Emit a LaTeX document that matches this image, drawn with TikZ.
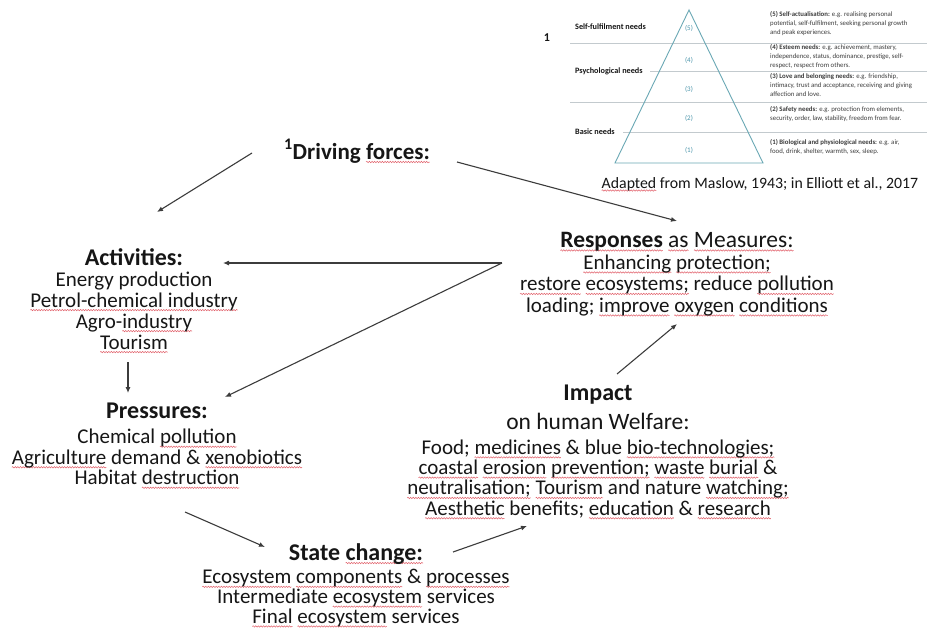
\documentclass[tikz,border=0pt]{standalone}
\usepackage{fontspec}
\setmainfont{Carlito}
\usetikzlibrary{arrows.meta,calc,decorations.pathmorphing}

\definecolor{ink}{HTML}{161616}
\definecolor{arrowgray}{HTML}{3C3C3C}
\definecolor{pyr}{HTML}{6AA8B5}
\definecolor{pyrnum}{HTML}{4B95AB}
\definecolor{rulegray}{HTML}{C3CACE}
\definecolor{squigred}{HTML}{E2626C}
\definecolor{smallink}{HTML}{3C3C3C}

\tikzset{
  squig/.style={draw=squigred, line width=0.5pt, decorate,
    decoration={snake, amplitude=0.7pt, segment length=2.6pt}},
}

% red spell-check style wavy underline
\newsavebox\sqbox
\newlength\sqlen
\newlength\sqdrop
\setlength\sqdrop{3pt}
\newcommand\sq[1]{\sbox\sqbox{#1}\setlength\sqlen{\wd\sqbox}%
  \rlap{\tikz[baseline=0pt]{\path (0pt,0pt);
    \draw[squig,overlay] (0pt,-\sqdrop) -- (\sqlen,-\sqdrop);}}\usebox\sqbox}

\newcommand\ttlfont{\bfseries\fontsize{24}{24}\selectfont}
\newcommand\subfont{\fontsize{23.5}{23.5}\selectfont}
% body text with a fixed line pitch
\newcommand\bodyfont[1]{\fontsize{21}{#1}\selectfont\lineskiplimit=-30pt\relax}

\begin{document}
\begin{tikzpicture}[x=1pt, y=-1pt,
  blk/.style={align=center, inner sep=0pt, text=ink},
  flow/.style={draw=arrowgray, line width=1.1pt,
    -{Latex[length=6pt,width=5pt]}},
  needtxt/.style={anchor=north west, inner sep=0pt, align=left,
    text=smallink, font=\fontsize{6.8}{9.2}\selectfont},
  levelnum/.style={text=pyrnum, inner sep=0pt, font=\fontsize{7}{7}\selectfont},
  levellab/.style={anchor=west, inner sep=0pt, text=ink,
    font=\bfseries\fontsize{8.2}{9}\selectfont},
]
\path[use as bounding box, fill=white] (0,0) rectangle (927,627);

% ---- Maslow pyramid of needs ----
\draw[rulegray, line width=0.6pt] (570,43) -- (927,43);
\draw[rulegray, line width=0.6pt] (650,71) -- (927,71);
\draw[rulegray, line width=0.6pt] (570,102) -- (927,102);
\draw[rulegray, line width=0.6pt] (623,132) -- (927,132);
\draw[pyr, line width=0.9pt] (689,10) -- (763,163) -- (615,163) -- cycle;

\node[levelnum] (n5) at (689,28) {(5)};
\node[levelnum] (n4) at (689,60) {(4)};
\node[levelnum] (n3) at (689,89) {(3)};
\node[levelnum] (n2) at (689,118) {(2)};
\node[levelnum] (n1) at (689,150) {(1)};

\node[levellab] (lself) at (575,27) {Self-fulfilment needs};
\node[levellab] (lpsy) at (575,71) {Psychological needs};
\node[levellab] (lbas) at (575,132) {Basic needs};

\node[anchor=base, inner sep=0pt, text=ink, font=\bfseries\fontsize{12}{12}\selectfont]
  (one) at (547,41) {1};

\node[needtxt] (d5) at (770,11) {\textbf{(5) Self-actualisation:} e.g. realising personal\\
  potential, self-fulfilment, seeking personal growth\\ and peak experiences.};
\node[needtxt] (d4) at (770,44) {\textbf{(4) Esteem needs:} e.g. achievement, mastery,\\
  independence, status, dominance, prestige, self-\\ respect, respect from others.};
\node[needtxt] (d3) at (770,73) {\textbf{(3) Love and belonging needs:} e.g. friendship,\\
  intimacy, trust and acceptance, receiving and giving\\ affection and love.};
\node[needtxt] (d2) at (770,106) {\textbf{(2) Safety needs:} e.g. protection from elements,\\
  security, order, law, stability, freedom from fear.};
\node[needtxt] (d1) at (770,139) {\textbf{(1) Biological and physiological needs:} e.g. air,\\
  food, drink, shelter, warmth, sex, sleep.};

\node[anchor=base, inner sep=0pt, text=ink, font=\fontsize{15.8}{16}\selectfont]
  (src) at (760,188) {\setlength\sqdrop{2.5pt}\sq{Adapted} from Maslow, 1943; in Elliott et al., 2017};

% ---- DPSIR blocks ----
\node[blk, anchor=base, font=\bfseries\fontsize{23}{23}\selectfont] (drive) at (357,159)
  {\textsuperscript{1}Driving \sq{forces:}};

\node[blk, anchor=north, font=\bodyfont{21}] (act) at (134,248)
  {{\ttlfont Activities:}\\
   Energy production\\
   \sq{Petrol-chemical industry}\\
   Agro-\sq{industry}\\
   \sq{Tourism}};

\node[blk, anchor=north, font=\bodyfont{20.5}] (pres) at (157,403)
  {{\ttlfont Pressures:}\\[4.5pt]
   Chemical \sq{pollution}\\
   \sq{Agriculture} demand \& \sq{xenobiotics}\\
   Habitat \sq{destruction}};

\node[blk, anchor=north, font=\bodyfont{19.8}] (state) at (356,543)
  {{\ttlfont State \sq{change:}}\\[4pt]
   \sq{Ecosystem} \sq{components} \& \sq{processes}\\
   Intermediate \sq{ecosystem} services\\
   \sq{Final} \sq{ecosystem} services};

\node[blk, anchor=north, font=\bodyfont{20.3}] (imp) at (598,385)
  {{\ttlfont Impact}\\[8.5pt]
   {\subfont on human Welfare:}\\[4.5pt]
   Food; \sq{medicines} \& blue \sq{bio-technologies;}\\
   \sq{coastal} \sq{erosion} \sq{prevention;} \sq{waste} \sq{burial} \&\\
   \sq{neutralisation;} \sq{Tourism} and nature \sq{watching;}\\
   \sq{Aesthetic} benefits; \sq{education} \& \sq{research}};

\node[blk, anchor=north, font=\bodyfont{21.5}] (resp) at (677,232)
  {{\subfont\textbf{\sq{Responses}} \sq{as} \sq{Measures:}}\\[0.5pt]
   \sq{Enhancing} \sq{protection;}\\
   \sq{restore} \sq{ecosystems;} reduce \sq{pollution}\\
   loading; \sq{improve} \sq{oxygen} \sq{conditions}};

% ---- connectors ----
\coordinate (fork) at ($(resp.north)+(-175,31)$);
\draw[flow] ($(drive.base)+(-105,-6)$) -- ($(act.north)+(23,-36)$);
\draw[flow] ($(drive.base)+(100,3)$) -- ($(resp.north)+(0,-11)$);
\draw[flow] (fork) -- ($(act.north)+(89,15)$);
\draw[flow] (fork) -- ($(pres.north)+(68,-6)$);
\draw[flow] ($(act.north)+(-6,114)$) -- ($(pres.north)+(-29,-10)$);
\draw[flow] ($(pres.north)+(28,109)$) -- ($(state.north)+(-91,4)$);
\draw[flow] ($(state.north)+(97,9)$) -- ($(imp.north)+(-71,141)$);
\draw[flow] ($(imp.north)+(19,-11)$) -- ($(resp.north)+(0,92)$);
\end{tikzpicture}
\end{document}
